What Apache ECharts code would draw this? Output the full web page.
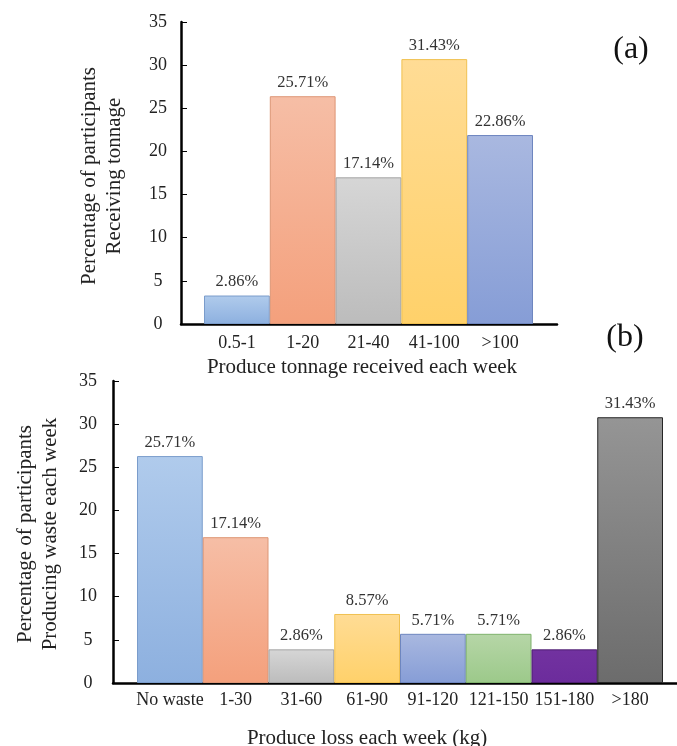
<!DOCTYPE html>
<html>
<head>
<meta charset="utf-8">
<script src="https://cdn.jsdelivr.net/npm/echarts@6/dist/echarts.min.js"></script>
<style>
html,body{margin:0;padding:0;background:#fff;}
#chart{width:677px;height:746px;}
</style>
</head>
<body>
<div id="chart"></div>
<script>
// ---- Data ----
const catsA = ['0.5-1', '1-20', '21-40', '41-100', '>100'];
const valuesA = [3.3, 26.4, 17.0, 30.7, 21.9];
const labelsA = ['2.86%', '25.71%', '17.14%', '31.43%', '22.86%'];

const catsB = ['No waste', '1-30', '31-60', '61-90', '91-120', '121-150', '151-180', '>180'];
const valuesB = [26.3, 16.9, 3.9, 8.0, 5.7, 5.7, 3.9, 30.8];
const labelsB = ['25.71%', '17.14%', '2.86%', '8.57%', '5.71%', '5.71%', '2.86%', '31.43%'];

const yTicks = [0, 35, 5]; // min, max, interval

// ---- Styles ----
const FONT = 'Liberation Serif';
const pal = {
  blue:   ['#b0cbec', '#8db0df', '#7a9ccb'],
  orange: ['#f6bea6', '#f4a07c', '#dd9676'],
  gray:   ['#d6d6d6', '#bcbcbc', '#a4a4a4'],
  yellow: ['#ffdc95', '#ffd16a', '#f0c050'],
  slate:  ['#a9b8e0', '#869dd6', '#6e86bf'],
  green:  ['#b6d6a7', '#9cc98a', '#7fb26d'],
  purple: ['#7232a0', '#6c2c9c', '#4e1f72'],
  dark:   ['#959595', '#6c6c6c', '#262626']
};
const colorsA = [pal.blue, pal.orange, pal.gray, pal.yellow, pal.slate];
const colorsB = [pal.blue, pal.orange, pal.gray, pal.yellow, pal.slate, pal.green, pal.purple, pal.dark];

function grad(c) {
  return {type: 'linear', x: 0, y: 0, x2: 0, y2: 1,
    colorStops: [{offset: 0, color: c[0]}, {offset: 1, color: c[1]}]};
}
function items(vals, cols) {
  return vals.map((v, i) => ({value: v, itemStyle: {color: grad(cols[i]), borderColor: cols[i][2], borderWidth: 1}}));
}

function frameY(gi, margin) {
  return {
    type: 'value', gridIndex: gi, min: yTicks[0], max: yTicks[1], interval: yTicks[2],
    axisLine: {show: true, lineStyle: {color: '#000', width: 2.5}},
    axisTick: {show: true, inside: true, length: 6, lineStyle: {color: '#000', width: 1}},
    axisLabel: {fontFamily: FONT, fontSize: 18, color: '#222', margin: margin, align: 'center'},
    splitLine: {show: false}
  };
}
function frameX(gi) {
  return {
    type: 'value', gridIndex: gi, min: 0, max: 1,
    axisLine: {show: true, onZero: false, lineStyle: {color: '#000', width: 2.5}},
    axisTick: {show: false}, axisLabel: {show: false}, splitLine: {show: false}
  };
}
function catAxis(gi, cats, margin) {
  return {
    type: 'category', gridIndex: gi, data: cats,
    axisLine: {show: false}, axisTick: {show: false},
    axisLabel: {fontFamily: FONT, fontSize: 18, color: '#222', margin: margin, interval: 0},
    splitLine: {show: false}
  };
}
function hiddenY(gi) {
  return {type: 'value', gridIndex: gi, min: yTicks[0], max: yTicks[1], show: false, splitLine: {show: false}};
}
function barLabel(labels) {
  return {show: true, position: 'top', distance: 5, fontFamily: FONT, fontSize: 16.5, color: '#333',
    formatter: p => labels[p.dataIndex]};
}

const chart = echarts.init(document.getElementById('chart'), null, {renderer: 'canvas'});
chart.setOption({
  backgroundColor: '#fff',
  animation: false,
  grid: [
    {left: 181, top: 22, width: 376, height: 302},
    {left: 204, top: 22, width: 329, height: 302},
    {left: 113, top: 381, width: 564, height: 302},
    {left: 137, top: 381, width: 526, height: 302}
  ],
  xAxis: [frameX(0), catAxis(1, catsA, 10), frameX(2), catAxis(3, catsB, 8)],
  yAxis: [frameY(0, 23), hiddenY(1), frameY(2, 25), hiddenY(3)],
  series: [
    {type: 'bar', xAxisIndex: 1, yAxisIndex: 1, barCategoryGap: '0%', data: items(valuesA, colorsA), label: barLabel(labelsA), z: 3},
    {type: 'bar', xAxisIndex: 3, yAxisIndex: 3, barCategoryGap: '0%', data: items(valuesB, colorsB), label: barLabel(labelsB), z: 3}
  ],
  graphic: [
    {type: 'text', x: 102, y: 176, rotation: Math.PI / 2, style: {text: 'Percentage of participants\nReceiving tonnage', font: '21px "Liberation Serif"', fill: '#222', align: 'center', verticalAlign: 'middle', lineHeight: 25}},
    {type: 'text', x: 38, y: 534, rotation: Math.PI / 2, style: {text: 'Percentage of participants\nProducing waste each week', font: '21px "Liberation Serif"', fill: '#222', align: 'center', verticalAlign: 'middle', lineHeight: 25}},
    {type: 'text', x: 362, y: 367, style: {text: 'Produce tonnage received each week', font: '21px "Liberation Serif"', fill: '#222', align: 'center', verticalAlign: 'middle'}},
    {type: 'text', x: 367, y: 738, style: {text: 'Produce loss each week (kg)', font: '21px "Liberation Serif"', fill: '#222', align: 'center', verticalAlign: 'middle'}},
    {type: 'text', x: 631, y: 50, style: {text: '(a)', font: '32px "Liberation Serif"', fill: '#111', align: 'center', verticalAlign: 'middle'}},
    {type: 'text', x: 625, y: 338, style: {text: '(b)', font: '32px "Liberation Serif"', fill: '#111', align: 'center', verticalAlign: 'middle'}}
  ]
});
</script>
</body>
</html>
